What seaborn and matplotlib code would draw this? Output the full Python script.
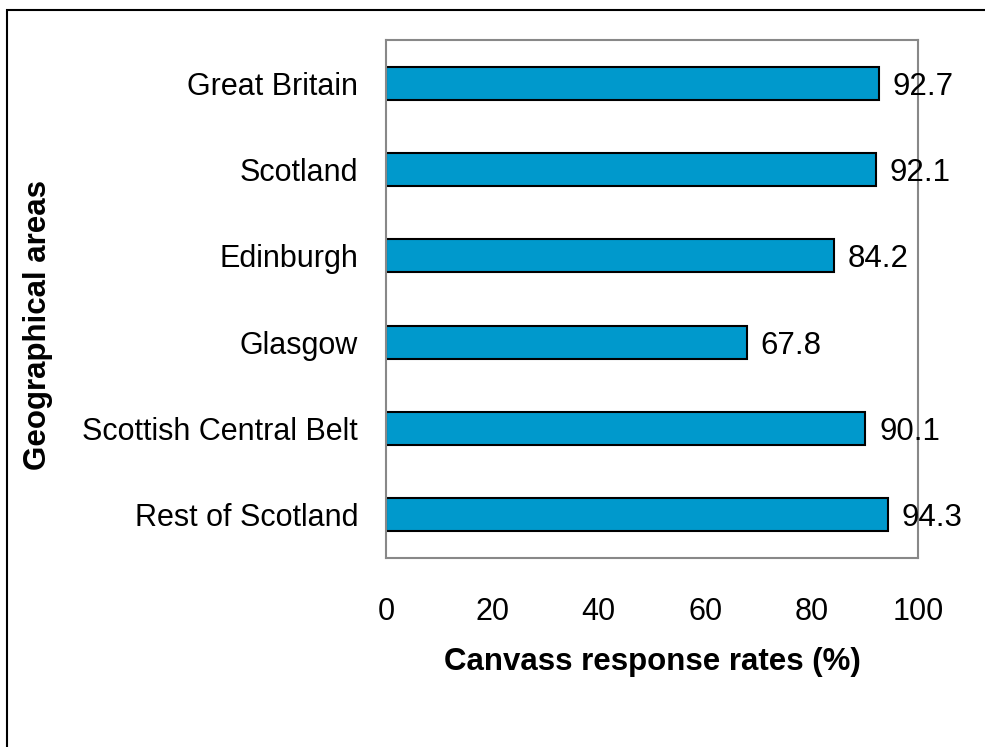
import matplotlib
matplotlib.use("Agg")
import matplotlib.pyplot as plt
from matplotlib.patches import Rectangle
import seaborn as sns
import pandas as pd

areas = ["Great Britain", "Scotland", "Edinburgh", "Glasgow",
         "Scottish Central Belt", "Rest of Scotland"]
rates = [92.7, 92.1, 84.2, 67.8, 90.1, 94.3]
x_ticks = [0, 20, 40, 60, 80, 100]

BAR_COLOR = "#0099CC"
W, H = 985, 747


def main():
    sns.set_theme(style="white")
    plt.rcParams["font.family"] = ["Liberation Sans", "DejaVu Sans"]
    plt.rcParams["text.color"] = "black"

    df = pd.DataFrame({"area": areas, "rate": rates})

    fig = plt.figure(figsize=(W / 100, H / 100), dpi=100)
    ax = fig.add_axes([386 / W, 1 - 558 / H, 532 / W, 518 / H])

    sns.barplot(data=df, x="rate", y="area", orient="h", color=BAR_COLOR,
                saturation=1, edgecolor="black", linewidth=1.5, width=0.38, ax=ax)

    for i, v in enumerate(rates):
        ax.text(v + 2.6, i, f"{v:.1f}", va="center_baseline", ha="left",
                fontsize=22.5, color="black")

    ax.set_xlim(0, 100)
    ax.set_ylim(5.5, -0.5)
    ax.set_xticks(x_ticks)
    ax.set_xticklabels([str(t) for t in x_ticks])
    ax.tick_params(axis="x", length=0, pad=28, labelsize=22, colors="black")
    ax.tick_params(axis="y", length=0, pad=20, labelsize=22, colors="black")
    ax.set_xlabel("")
    ax.set_ylabel("")
    for sp in ax.spines.values():
        sp.set_visible(True)
        sp.set_color("#888888")
        sp.set_linewidth(1.5)

    fig.text(652 / W, 1 - 662 / H, "Canvass response rates (%)", ha="center",
             va="center", fontsize=22.5, fontweight="bold", color="black")
    fig.text(38 / W, 1 - 325 / H, "Geographical areas", ha="center",
             va="center", rotation=90, fontsize=22.5, fontweight="bold",
             color="black")

    # outer frame (runs off the right and bottom edges)
    fig.patches.append(Rectangle((7 / W, -0.5), 2, 1 - 10 / H + 0.5,
                                 transform=fig.transFigure, fill=False,
                                 edgecolor="black", linewidth=1.5))

    fig.savefig("out.png", dpi=100)
    plt.close(fig)


if __name__ == "__main__":
    main()
